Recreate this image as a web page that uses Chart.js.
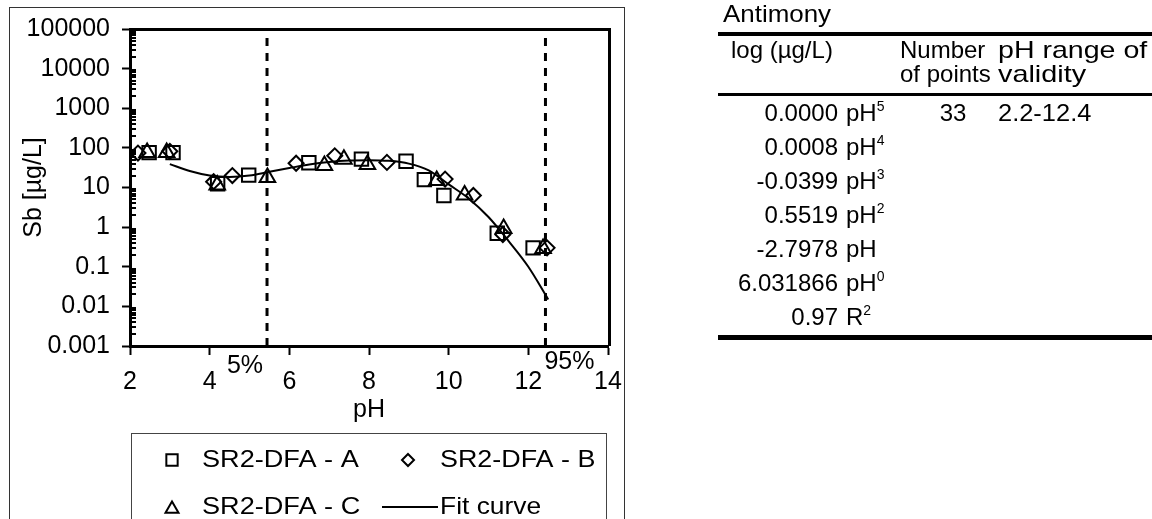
<!DOCTYPE html>
<html>
<head>
<meta charset="utf-8">
<script src="https://cdn.jsdelivr.net/npm/chart.js@4/dist/chart.umd.min.js"></script>
<style>
  body { margin: 0; background: #fff; font-family: "Liberation Sans", Arial, sans-serif; color: #000; }
  #page { position: relative; width: 1152px; height: 519px; overflow: hidden; }
  #sbChart { position: absolute; left: 0; top: 0; }
  #coef { position: absolute; left: 0; top: 0; width: 1152px; height: 519px; font-size: 24px; }
  #coef div { position: absolute; white-space: nowrap; transform-origin: 0 50%; }
  #coef div.rule { background: #000; width: 434px; }
  sup { font-size: 14px; vertical-align: 10px; line-height: 0; }
</style>
</head>
<body>
<div id="page">
  <canvas id="sbChart" width="640" height="519"></canvas>
  <div id="coef"></div>
</div>
<script>
// measured Sb concentration (ug/L) vs pH, three leaching series
const phA = [2.48, 3.08, 4.2, 4.98, 6.49, 7.81, 8.93, 9.39, 9.88, 11.22, 12.12];
const sbA = [76, 76, 12.5, 20.5, 42, 52, 46, 15.8, 6.3, 0.70, 0.30];
const phB = [2.2, 3.0, 4.1, 4.57, 6.17, 7.14, 8.45, 9.91, 10.62, 11.36, 12.47];
const sbB = [74, 82, 14, 20, 41, 63, 43, 16.3, 6.3, 0.65, 0.30];
const phC = [2.43, 2.92, 4.19, 5.45, 6.88, 7.37, 7.96, 9.70, 10.40, 11.38, 12.37];
const sbC = [76, 76, 11.5, 18, 36, 52, 38, 15, 6.5, 0.92, 0.29];

// fit curve
const fitPH = [3.0, 3.5, 4.0, 4.5, 5.0, 5.5, 6.0, 6.5, 7.0, 7.5, 8.0, 8.5, 9.0, 9.5, 10.0, 10.5, 11.0, 11.5, 12.0, 12.5];
const fitSb = [39, 26, 20, 18.5, 20, 25, 31, 38, 44, 48, 49, 47, 40, 27, 12, 5.3, 1.8, 0.45, 0.10, 0.015];

// 5% and 95% pH percentiles
const pctPH = [5.44, 12.43];
const pctLabels = ['5%', '95%'];

const seriesLabels = ['SR2-DFA - A', 'SR2-DFA - B', 'SR2-DFA - C', 'Fit curve'];
const xTicks = [2, 4, 6, 8, 10, 12, 14];
const yMajor = [0.001, 0.01, 0.1, 1, 10, 100, 1000, 10000, 100000];
const yTickLabels = ['0.001', '0.01', '0.1', '1', '10', '100', '1000', '10000', '100000'];

// table on the right
const coefValues = ['0.0000', '0.0008', '-0.0399', '0.5519', '-2.7978', '6.031866', '0.97'];
const coefBase = ['pH', 'pH', 'pH', 'pH', 'pH', 'pH', 'R'];
const coefPow = ['5', '4', '3', '2', '', '0', '2'];
const nPoints = '33';
const validRange = '2.2-12.4';

function pts(xs, ys) {
    return xs.map((x, i) => ({ x: x, y: ys[i] }));
}

function isMajor(v) {
    const l = Math.log10(v);
    return Math.abs(l - Math.round(l)) < 1e-9;
}

let yAll = [];
for (let e = -3; e < 5; e++) {
    for (let m = 1; m < 10; m++) {
        yAll.push(Number((m * Math.pow(10, e)).toPrecision(3)));
    }
}
yAll.push(100000);

function marker(c, style, x, y, r) {
    c.beginPath();
    if (style === 'rect') {
        const s = r * Math.SQRT1_2;
        c.rect(x - s, y - s, 2 * s, 2 * s);
    } else if (style === 'rectRot') {
        c.moveTo(x, y - r); c.lineTo(x + r, y); c.lineTo(x, y + r); c.lineTo(x - r, y); c.closePath();
    } else {
        c.moveTo(x, y - r);
        c.lineTo(x + r * Math.sin(2 * Math.PI / 3), y + r / 2);
        c.lineTo(x - r * Math.sin(2 * Math.PI / 3), y + r / 2);
        c.closePath();
    }
    c.stroke();
}

// legend text is a bit wider than plain Arial in the original
function wideText(c, s, x, y, k) {
    c.save();
    c.translate(x, y);
    c.scale(k, 1);
    c.fillText(s, 0, 0);
    c.restore();
}

const framePlugin = {
    id: 'frame',
    afterDraw(chart) {
        const c = chart.ctx;
        const a = chart.chartArea;
        const ys = chart.scales.y, xs = chart.scales.x;
        c.save();
        c.strokeStyle = '#000';

        // top and right border of the plot
        c.lineWidth = 3;
        c.beginPath();
        c.moveTo(a.left, a.top + 0.5); c.lineTo(a.right + 1.5, a.top + 0.5);
        c.lineTo(a.right + 1.5, a.bottom);
        c.stroke();

        // minor ticks inside the y axis
        c.lineWidth = 2;
        yAll.forEach(v => {
            if (isMajor(v)) return;
            const py = Math.round(ys.getPixelForValue(v));
            c.beginPath(); c.moveTo(a.left, py); c.lineTo(a.left + 6, py); c.stroke();
        });

        // outer frame
        c.lineWidth = 1;
        c.strokeStyle = '#333';
        c.strokeRect(9.5, 7.5, 615, 600);

        // percentile labels
        c.fillStyle = '#000';
        c.font = '25px "Liberation Sans", Arial, sans-serif';
        c.textBaseline = 'middle';
        c.textAlign = 'right';
        c.fillText(pctLabels[0], xs.getPixelForValue(pctPH[0]) - 4, 366);
        c.textAlign = 'left';
        c.fillText(pctLabels[1], xs.getPixelForValue(pctPH[1]) - 1, 362);

        // legend
        c.strokeStyle = '#444';
        c.lineWidth = 1;
        c.strokeRect(131.5, 433.5, 475, 200);
        c.strokeStyle = '#000';
        c.lineWidth = 2;
        marker(c, 'rect', 172, 460, 8);
        marker(c, 'rectRot', 408, 460, 6);
        marker(c, 'triangle', 172, 509, 7.5);
        c.beginPath(); c.moveTo(382, 507); c.lineTo(438, 507); c.stroke();
        c.font = '24px "Liberation Sans", Arial, sans-serif';
        wideText(c, seriesLabels[0], 202, 460, 1.13);
        wideText(c, seriesLabels[1], 440, 460, 1.12);
        wideText(c, seriesLabels[2], 202, 507, 1.13);
        wideText(c, seriesLabels[3], 440, 507, 1.1);
        c.restore();
    }
};

Chart.defaults.font.family = '"Liberation Sans", Arial, sans-serif';
Chart.defaults.font.size = 25;
Chart.defaults.color = '#000';

const markerBase = {
    showLine: false,
    borderColor: '#000',
    backgroundColor: 'rgba(0,0,0,0)',
    pointBorderWidth: 2
};

new Chart(document.getElementById('sbChart'), {
    type: 'scatter',
    data: {
        datasets: [
            {
                label: seriesLabels[3], data: pts(fitPH, fitSb), showLine: true,
                borderColor: '#000', borderWidth: 2, pointRadius: 0, tension: 0.4,
                cubicInterpolationMode: 'monotone'
            },
            {
                label: '5%', data: pts([pctPH[0], pctPH[0]], [0.001, 100000]), showLine: true,
                borderColor: '#000', borderWidth: 3, borderDash: [8, 7], pointRadius: 0
            },
            {
                label: '95%', data: pts([pctPH[1], pctPH[1]], [0.001, 100000]), showLine: true,
                borderColor: '#000', borderWidth: 3, borderDash: [8, 7], pointRadius: 0
            },
            Object.assign({ label: seriesLabels[0], data: pts(phA, sbA), pointStyle: 'rect', pointRadius: 9.5 }, markerBase),
            Object.assign({ label: seriesLabels[1], data: pts(phB, sbB), pointStyle: 'rectRot', pointRadius: 7.5 }, markerBase),
            Object.assign({ label: seriesLabels[2], data: pts(phC, sbC), pointStyle: 'triangle', pointRadius: 9 }, markerBase)
        ]
    },
    options: {
        responsive: false,
        animation: false,
        devicePixelRatio: 1,
        layout: { padding: { left: 0, top: 29, right: 32, bottom: 94 } },
        plugins: { legend: { display: false }, tooltip: { enabled: false } },
        scales: {
            x: {
                type: 'linear', min: 2, max: 14,
                afterBuildTicks: s => { s.ticks = xTicks.map(v => ({ value: v })); },
                afterFit: s => { s.height = 79; },
                grid: { drawOnChartArea: false, drawTicks: true, tickLength: 9, tickWidth: 2, tickColor: '#000' },
                border: { display: true, color: '#000', width: 3 },
                ticks: { padding: 12, maxRotation: 0, autoSkip: false },
                title: { display: true, text: 'pH', padding: 0 }
            },
            y: {
                type: 'logarithmic', min: 0.001, max: 100000,
                afterBuildTicks: s => { s.ticks = yAll.map(v => ({ value: v })); },
                afterFit: s => { s.width = 130; },
                grid: {
                    drawOnChartArea: false, drawTicks: true, tickLength: 8, tickWidth: 2,
                    tickColor: ctx => (ctx.tick && isMajor(ctx.tick.value)) ? '#000' : 'rgba(0,0,0,0)'
                },
                border: { display: true, color: '#000', width: 3 },
                ticks: {
                    padding: 12, autoSkip: false,
                    callback: v => {
                        const i = yMajor.findIndex(m => Math.abs(m - v) / m < 1e-6);
                        return i >= 0 ? yTickLabels[i] : '';
                    }
                },
                title: { display: true, text: 'Sb [µg/L]', padding: { top: 19, bottom: 0 } }
            }
        }
    },
    plugins: [framePlugin]
});

// coefficient table
const t = document.getElementById('coef');
function cell(text, left, top, extra) {
    const d = document.createElement('div');
    d.innerHTML = text;
    d.style.left = left + 'px';
    d.style.top = top + 'px';
    if (extra) Object.assign(d.style, extra);
    t.appendChild(d);
    return d;
}
function rule(top, h) {
    const d = cell('', 718, top, { height: h + 'px' });
    d.className = 'rule';
}
cell('Antimony', 723, 0, { lineHeight: '28px', transform: 'scaleX(1.08)' });
rule(32, 4);
cell('log (µg/L)', 731, 38, { lineHeight: '24px' });
cell('Number', 900, 38, { lineHeight: '24px' });
cell('of points', 900, 62, { lineHeight: '24px' });
cell('pH range of', 998, 38, { lineHeight: '24px', transform: 'scaleX(1.19)' });
cell('validity', 998, 62, { lineHeight: '24px', transform: 'scaleX(1.2)' });
rule(93, 3);
coefValues.forEach((v, i) => {
    const top = 96 + 34 * i;
    cell(v, 700, top, { width: '138px', textAlign: 'right', lineHeight: '34px' });
    cell(coefBase[i] + (coefPow[i] ? '<sup>' + coefPow[i] + '</sup>' : ''), 846, top, { lineHeight: '34px' });
});
cell(nPoints, 913, 96, { width: '80px', textAlign: 'center', lineHeight: '34px' });
cell(validRange, 998, 96, { lineHeight: '34px', transform: 'scaleX(1.06)' });
rule(335, 5);
</script>
</body>
</html>
